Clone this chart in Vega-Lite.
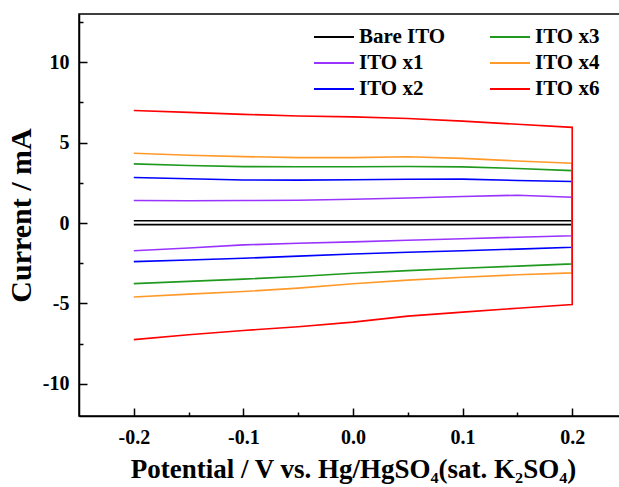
{
  "$schema": "https://vega.github.io/schema/vega-lite/v6.json",
  "width": 548,
  "height": 402,
  "autosize": {"type": "none"},
  "padding": {"left": 79, "top": 14, "right": 0, "bottom": 71},
  "background": "white",
  "config": {
    "view": {"stroke": "black", "strokeWidth": 1.5},
    "font": "Liberation Serif",
    "axis": {
      "domainColor": "black", "domainWidth": 1.5, "tickColor": "black", "tickWidth": 1.5,
      "labelFont": "Liberation Serif", "labelFontSize": 20, "labelFontWeight": "bold", "labelColor": "black",
      "titleFont": "Liberation Serif", "titleFontSize": 27, "titleFontWeight": "bold", "titleColor": "black",
      "grid": false
    }
  },
  "data": {"values": [
    {"s":"Bare ITO","v":-0.2,"i":0.14,"o":0},{"s":"Bare ITO","v":0.0,"i":0.14,"o":1},{"s":"Bare ITO","v":0.2,"i":0.14,"o":2},
    {"s":"Bare ITO","v":0.2,"i":-0.1,"o":3},{"s":"Bare ITO","v":0.0,"i":-0.1,"o":4},{"s":"Bare ITO","v":-0.2,"i":-0.1,"o":5},
    {"s":"ITO x1","v":-0.2,"i":1.40,"o":0},{"s":"ITO x1","v":-0.15,"i":1.39,"o":1},{"s":"ITO x1","v":-0.1,"i":1.40,"o":2},{"s":"ITO x1","v":-0.05,"i":1.42,"o":3},{"s":"ITO x1","v":0.0,"i":1.48,"o":4},{"s":"ITO x1","v":0.05,"i":1.56,"o":5},{"s":"ITO x1","v":0.1,"i":1.65,"o":6},{"s":"ITO x1","v":0.15,"i":1.73,"o":7},{"s":"ITO x1","v":0.2,"i":1.60,"o":8},
    {"s":"ITO x1","v":0.2,"i":-0.79,"o":9},{"s":"ITO x1","v":0.15,"i":-0.88,"o":10},{"s":"ITO x1","v":0.1,"i":-0.98,"o":11},{"s":"ITO x1","v":0.05,"i":-1.07,"o":12},{"s":"ITO x1","v":0.0,"i":-1.17,"o":13},{"s":"ITO x1","v":-0.05,"i":-1.26,"o":14},{"s":"ITO x1","v":-0.1,"i":-1.36,"o":15},{"s":"ITO x1","v":-0.15,"i":-1.55,"o":16},{"s":"ITO x1","v":-0.2,"i":-1.72,"o":17},
    {"s":"ITO x2","v":-0.2,"i":2.83,"o":0},{"s":"ITO x2","v":-0.15,"i":2.75,"o":1},{"s":"ITO x2","v":-0.1,"i":2.68,"o":2},{"s":"ITO x2","v":-0.05,"i":2.67,"o":3},{"s":"ITO x2","v":0.0,"i":2.69,"o":4},{"s":"ITO x2","v":0.05,"i":2.72,"o":5},{"s":"ITO x2","v":0.1,"i":2.73,"o":6},{"s":"ITO x2","v":0.15,"i":2.65,"o":7},{"s":"ITO x2","v":0.2,"i":2.58,"o":8},
    {"s":"ITO x2","v":0.2,"i":-1.51,"o":9},{"s":"ITO x2","v":0.15,"i":-1.62,"o":10},{"s":"ITO x2","v":0.1,"i":-1.72,"o":11},{"s":"ITO x2","v":0.05,"i":-1.82,"o":12},{"s":"ITO x2","v":0.0,"i":-1.93,"o":13},{"s":"ITO x2","v":-0.05,"i":-2.06,"o":14},{"s":"ITO x2","v":-0.1,"i":-2.19,"o":15},{"s":"ITO x2","v":-0.15,"i":-2.30,"o":16},{"s":"ITO x2","v":-0.2,"i":-2.40,"o":17},
    {"s":"ITO x3","v":-0.2,"i":3.68,"o":0},{"s":"ITO x3","v":-0.15,"i":3.58,"o":1},{"s":"ITO x3","v":-0.1,"i":3.51,"o":2},{"s":"ITO x3","v":-0.05,"i":3.50,"o":3},{"s":"ITO x3","v":0.0,"i":3.50,"o":4},{"s":"ITO x3","v":0.05,"i":3.52,"o":5},{"s":"ITO x3","v":0.1,"i":3.49,"o":6},{"s":"ITO x3","v":0.15,"i":3.39,"o":7},{"s":"ITO x3","v":0.2,"i":3.26,"o":8},
    {"s":"ITO x3","v":0.2,"i":-2.54,"o":9},{"s":"ITO x3","v":0.15,"i":-2.68,"o":10},{"s":"ITO x3","v":0.1,"i":-2.81,"o":11},{"s":"ITO x3","v":0.05,"i":-2.96,"o":12},{"s":"ITO x3","v":0.0,"i":-3.12,"o":13},{"s":"ITO x3","v":-0.05,"i":-3.32,"o":14},{"s":"ITO x3","v":-0.1,"i":-3.49,"o":15},{"s":"ITO x3","v":-0.15,"i":-3.63,"o":16},{"s":"ITO x3","v":-0.2,"i":-3.77,"o":17},
    {"s":"ITO x4","v":-0.2,"i":4.34,"o":0},{"s":"ITO x4","v":-0.15,"i":4.22,"o":1},{"s":"ITO x4","v":-0.1,"i":4.13,"o":2},{"s":"ITO x4","v":-0.05,"i":4.07,"o":3},{"s":"ITO x4","v":0.0,"i":4.07,"o":4},{"s":"ITO x4","v":0.05,"i":4.12,"o":5},{"s":"ITO x4","v":0.1,"i":4.02,"o":6},{"s":"ITO x4","v":0.15,"i":3.86,"o":7},{"s":"ITO x4","v":0.2,"i":3.72,"o":8},
    {"s":"ITO x4","v":0.2,"i":-3.10,"o":9},{"s":"ITO x4","v":0.15,"i":-3.22,"o":10},{"s":"ITO x4","v":0.1,"i":-3.37,"o":11},{"s":"ITO x4","v":0.05,"i":-3.55,"o":12},{"s":"ITO x4","v":0.0,"i":-3.78,"o":13},{"s":"ITO x4","v":-0.05,"i":-4.05,"o":14},{"s":"ITO x4","v":-0.1,"i":-4.26,"o":15},{"s":"ITO x4","v":-0.15,"i":-4.42,"o":16},{"s":"ITO x4","v":-0.2,"i":-4.60,"o":17},
    {"s":"ITO x6","v":-0.2,"i":7.00,"o":0},{"s":"ITO x6","v":-0.15,"i":6.88,"o":1},{"s":"ITO x6","v":-0.1,"i":6.76,"o":2},{"s":"ITO x6","v":-0.05,"i":6.66,"o":3},{"s":"ITO x6","v":0.0,"i":6.60,"o":4},{"s":"ITO x6","v":0.05,"i":6.50,"o":5},{"s":"ITO x6","v":0.1,"i":6.34,"o":6},{"s":"ITO x6","v":0.15,"i":6.14,"o":7},{"s":"ITO x6","v":0.2,"i":5.95,"o":8},
    {"s":"ITO x6","v":0.2,"i":-5.07,"o":9},{"s":"ITO x6","v":0.15,"i":-5.30,"o":10},{"s":"ITO x6","v":0.1,"i":-5.54,"o":11},{"s":"ITO x6","v":0.05,"i":-5.79,"o":12},{"s":"ITO x6","v":0.0,"i":-6.16,"o":13},{"s":"ITO x6","v":-0.05,"i":-6.45,"o":14},{"s":"ITO x6","v":-0.1,"i":-6.68,"o":15},{"s":"ITO x6","v":-0.15,"i":-6.95,"o":16},{"s":"ITO x6","v":-0.2,"i":-7.25,"o":17}
  ]},
  "mark": {"type": "line", "strokeWidth": 1.6},
  "encoding": {
    "x": {
      "field": "v", "type": "quantitative",
      "scale": {"domain": [-0.25, 0.25], "nice": false, "zero": false},
      "axis": {
        "title": "Potential / V vs. Hg/HgSO₄(sat. K₂SO₄)",
        "values": [-0.2, -0.15, -0.1, -0.05, 0, 0.05, 0.1, 0.15, 0.2],
        "labelExpr": "abs(datum.value*10 - round(datum.value*10)) < 0.001 ? replace(format(datum.value, '.1f'), '\u2212', '-') : ''",
        "tickSize": {"condition": {"test": "abs(datum.value*10 - round(datum.value*10)) < 0.001", "value": -8}, "value": -4},
        "labelPadding": 19,
        "titlePadding": 9
      }
    },
    "y": {
      "field": "i", "type": "quantitative",
      "scale": {"domain": [-12, 13], "nice": false, "zero": false},
      "axis": {
        "title": "Current / mA",
        "titleFontSize": 30,
        "values": [-10, -7.5, -5, -2.5, 0, 2.5, 5, 7.5, 10, 12.5],
        "labelExpr": "datum.value % 5 == 0 ? toString(datum.value) : ''",
        "tickSize": {"condition": {"test": "datum.value % 5 == 0", "value": -8}, "value": -4},
        "labelPadding": 18,
        "titlePadding": 6
      }
    },
    "color": {
      "field": "s", "type": "nominal",
      "scale": {
        "domain": ["Bare ITO", "ITO x1", "ITO x2", "ITO x3", "ITO x4", "ITO x6"],
        "range": ["#000000", "#9933ff", "#0000ff", "#1f9a1f", "#ff9a2a", "#ff0000"]
      },
      "legend": {
        "title": null, "orient": "none", "legendX": 244, "legendY": 12, "columns": 2,
        "symbolType": "M-2,0H2", "symbolSize": 400, "symbolStrokeWidth": 2,
        "labelFont": "Liberation Serif", "labelFontSize": 21, "labelFontWeight": "bold", "labelColor": "black",
        "labelOffset": 14, "columnPadding": 40, "rowPadding": 5
      }
    },
    "order": {"field": "o", "type": "quantitative"}
  }
}
